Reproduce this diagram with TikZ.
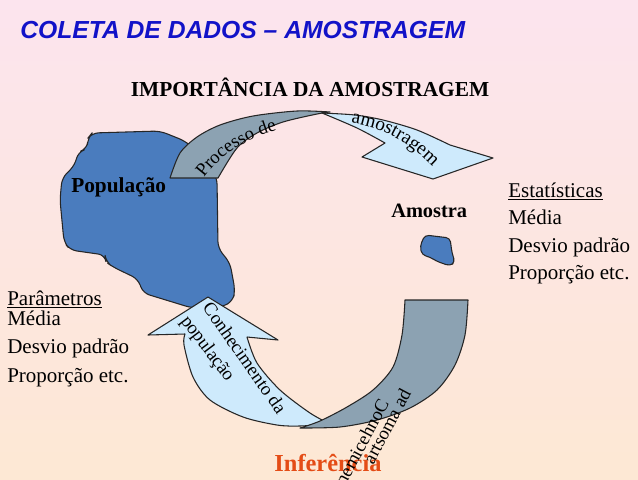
\documentclass[tikz,border=0pt]{standalone}
\usepackage{fontspec}
\setmainfont{Liberation Serif}
\setsansfont{Liberation Sans}
\usetikzlibrary{decorations.text}
\definecolor{bgtop}{RGB}{252,228,238}
\definecolor{bgbot}{RGB}{253,232,212}
\definecolor{popblue}{RGB}{74,124,190}
\definecolor{arcgray}{RGB}{140,162,178}
\definecolor{arcblue}{RGB}{206,234,252}
\definecolor{titleblue}{RGB}{18,18,200}
\definecolor{infred}{RGB}{228,76,22}
\begin{document}
\begin{tikzpicture}[x=0.75pt,y=-0.75pt,
  shapeline/.style={draw=black!85, line width=0.8pt, line join=round},
  lbl/.style={inner sep=0pt, anchor=base west, font=\fontsize{15.75}{18}\selectfont},
  arctext/.style={inner sep=0pt, font=\fontsize{14}{16}\selectfont}]
\useasboundingbox (0,0) rectangle (638,479);
\fill[top color=bgtop, bottom color=bgbot] (0,0) rectangle (638,479);

% title
\node[anchor=base west, inner sep=0pt, text=titleblue,
  font=\sffamily\bfseries\itshape\fontsize{18.5}{22}\selectfont] (title) at (20,38) {COLETA DE DADOS – AMOSTRAGEM};
\node[anchor=base, inner sep=0pt, font=\bfseries\fontsize{16}{18}\selectfont] (subtitle) at (310,96) {IMPORTÂNCIA DA AMOSTRAGEM};

% population
\draw[shapeline, fill=popblue, rounded corners=5pt]
  (92,133) -- (160,131) -- (185,141) -- (205,158) -- (217,178) -- (218,248)
  -- (230,263) -- (235,290) -- (233,301) -- (222,307) -- (192,308) -- (143,293)
  -- (138,279) -- (113,267) -- (106,262) -- (105,255) -- (70,250) -- (64,242)
  -- (60,200) -- (62,178) -- (75,165) -- (78,152) -- (87,149) -- (88,138) -- cycle;

% lower arc: light blue arrow part
\draw[shapeline, fill=arcblue]
  (208,297) -- (278,340) -- (247,337)
  -- plot[smooth] coordinates {(247,337) (257,363) (280,390) (310,413) (330,424)}
  -- plot[smooth] coordinates {(330,424) (300,426) (277,425) (243,417) (210,400) (193,377) (184,345) (185,334)}
  -- (148,335) -- cycle;
% lower arc: gray part
\draw[shapeline, fill=arcgray]
  (405,300) -- (468,300)
  -- plot[smooth] coordinates {(468,300) (465,335) (455,365) (437,390) (410,408) (377,420) (340,427) (300,428)}
  -- plot[smooth] coordinates {(300,428) (320,421) (347,407) (373,390) (393,367) (402,335) (405,300)}
  -- cycle;

% upper arc: gray part
\draw[shapeline, fill=arcgray]
  (170,178) -- plot[smooth] coordinates {(170,178) (180,153) (197,137) (220,125) (253,116) (297,111) (330,112)}
  -- plot[smooth] coordinates {(330,112) (317,114) (283,122) (257,133) (237,148) (218,178)}
  -- cycle;
% upper arc: light blue arrow part
\draw[shapeline, fill=arcblue]
  plot[smooth] coordinates {(322,113) (355,115) (383,120) (417,130) (450,145)}
  -- (493,158) -- (433,179) -- (362,157) -- (385,143)
  -- plot[smooth] coordinates {(385,143) (357,128) (322,113)} -- cycle;

% small sample blob
\draw[shapeline, fill=popblue, rounded corners=3pt]
  (425,235) -- (450,238) -- (452,253) -- (455,262) -- (450,266) -- (436,261)
  -- (430,257) -- (422,255) -- (420,246) -- cycle;

% arc texts
\path[decorate, decoration={text along path, text format delimiters={|}{|},
  text={|\fontsize{14}{16}\selectfont|Processo de}}]
  (204,178) .. controls (222,154) and (246,138) .. (280,130);
\path[decorate, decoration={text along path, text format delimiters={|}{|},
  text={|\fontsize{14.5}{16}\selectfont|amostragem}}]
  (351,123) .. controls (385,128) and (410,143) .. (436,170);
\node[arctext, rotate=-55] (conh) at (245,358) {Conhecimento da};
\node[arctext, rotate=-53] (popl) at (207,349) {população};

% labels
\node[anchor=base west, inner sep=0pt, font=\bfseries\fontsize{16}{18}\selectfont] (pop) at (71,192) {População};
\node[anchor=base west, inner sep=0pt, font=\bfseries\fontsize{15.3}{18}\selectfont] (amo) at (391,217) {Amostra};

\node[lbl] (est) at (508,197) {\underline{Estatísticas}};
\node[lbl] (est1) at (508,224) {Média};
\node[lbl] (est2) at (508,252) {Desvio padrão};
\node[lbl] (est3) at (508,279) {Proporção etc.};

\node[lbl] (par) at (7,305) {\underline{Parâmetros}};
\node[lbl] (par1) at (7,325) {Média};
\node[lbl] (par2) at (7,353) {Desvio padrão};
\node[lbl] (par3) at (7,382) {Proporção etc.};

\node[anchor=base, inner sep=0pt, text=infred, font=\bfseries\fontsize{18.3}{22}\selectfont] (inf) at (328,471) {Inferência};

% garbled bottom text (printed with reversed letters in the reference)
\node[arctext, anchor=east, rotate=62] (conh2) at (384,400) {otnemicehnoC};
\node[arctext, anchor=east, rotate=62] (conh3) at (406,390) {artsoma ad};
\end{tikzpicture}
\end{document}
